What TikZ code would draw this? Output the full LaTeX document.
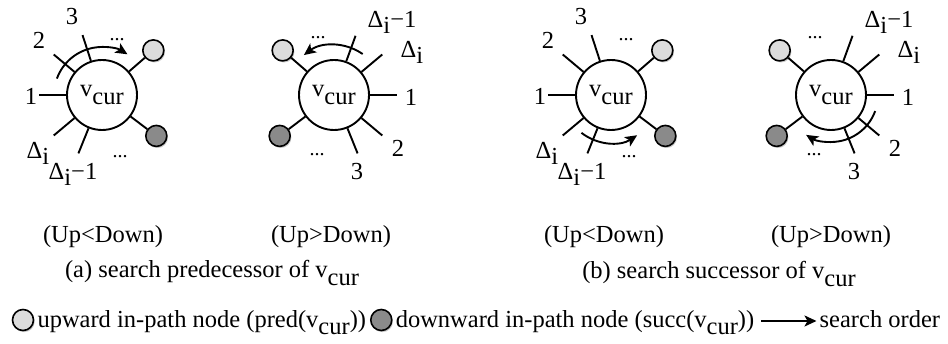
\documentclass[tikz,border=0pt]{standalone}
\usepackage{fontspec}
\setmainfont{Liberation Serif}
\usetikzlibrary{arrows.meta,calc}

\definecolor{upfill}{RGB}{220,220,220}
\definecolor{downfill}{RGB}{138,138,138}

\newcommand{\vcur}{v\raisebox{-0.3em}{cur}}
\newcommand{\Di}{Δ\raisebox{-0.25em}{i}}
\newcommand{\Dim}{Δ\raisebox{-0.25em}{i}−1}

\tikzset{
  hub/.style={circle, draw, line width=1.9pt, minimum size=70pt, inner sep=0pt, fill=white},
  spoke/.style={line width=1.9pt},
  shadowed/.style={preaction={fill=black, opacity=0.22,
      transform canvas={xshift=1.2pt, yshift=-1.6pt}}},
  upnode/.style={circle, draw, line width=1.6pt, minimum size=21pt, inner sep=0pt, fill=upfill, shadowed},
  downnode/.style={circle, draw, line width=1.6pt, minimum size=21pt, inner sep=0pt, fill=downfill, shadowed},
  order/.style={line width=1.9pt, -{Stealth[length=12pt, width=11pt, inset=3pt]}},
  lbl/.style={inner sep=0pt},
  dots/.style={inner sep=0pt, font=\fontsize{20}{20}\selectfont},
}

\begin{document}
\begin{tikzpicture}[x=1pt, y=1pt, font=\fontsize{24.5}{29}\selectfont]
\useasboundingbox (0,0) rectangle (948,344);

% ---------- (a) left: Up < Down, search runs clockwise over the top ----------
\node[hub] (h1) at (102,249) {\vcur};
\foreach \a/\n in {180/a,140/b,108/c,220/d,248/e}{
  \coordinate (h1\n) at ($(h1)+(\a:63)$);
  \draw[spoke] (h1.\a) -- (h1\n);
}
\node[upnode] (u1) at ($(h1)+(41:68)$) {};
\node[downnode] (d1) at ($(h1)+(-37:68)$) {};
\draw[spoke] (h1) -- (u1);
\draw[spoke] (h1) -- (d1);
\coordinate (s1) at ($(h1)+(160:48)$);
\draw[order] (s1) arc[start angle=160, end angle=58, radius=48];
\node[lbl] (t1c) at (72,327) {3};
\node[lbl] (t1b) at (39,304) {2};
\node[lbl] (t1a) at (31,248) {1};
\node[lbl] (t1d) at (38,191) {\Di};
\node[lbl] (t1e) at (73,170) {\Dim};
\node[dots] (p1u) at (117,304) {...};
\node[dots] (p1d) at (120,187) {...};

% ---------- (a) right: Up > Down, search runs counter-clockwise over the top ----------
\node[hub] (h2) at (334,249) {\vcur};
\foreach \a/\n in {0/a,-40/b,-68/c,40/d,70/e}{
  \coordinate (h2\n) at ($(h2)+(\a:63)$);
  \draw[spoke] (h2.\a) -- (h2\n);
}
\node[upnode] (u2) at ($(h2)+(139:68)$) {};
\node[downnode] (d2) at ($(h2)+(217:68)$) {};
\draw[spoke] (h2) -- (u2);
\draw[spoke] (h2) -- (d2);
\coordinate (s2) at ($(h2)+(55:50)$);
\draw[order] (s2) arc[start angle=55, end angle=127, radius=50];
\node[lbl] (t2e) at (392,322) {\Dim};
\node[lbl] (t2d) at (412,292) {\Di};
\node[lbl] (t2a) at (411,247) {1};
\node[lbl] (t2b) at (398,196) {2};
\node[lbl] (t2c) at (357,172) {3};
\node[dots] (p2u) at (318,306) {...};
\node[dots] (p2d) at (317,189) {...};

% ---------- (b) left: Up < Down, search runs counter-clockwise under the bottom ----------
\node[hub] (h3) at (611,249) {\vcur};
\foreach \a/\n in {180/a,140/b,108/c,220/d,248/e}{
  \coordinate (h3\n) at ($(h3)+(\a:63)$);
  \draw[spoke] (h3.\a) -- (h3\n);
}
\node[upnode] (u3) at ($(h3)+(41:68)$) {};
\node[downnode] (d3) at ($(h3)+(-37:68)$) {};
\draw[spoke] (h3) -- (u3);
\draw[spoke] (h3) -- (d3);
\coordinate (s3) at ($(h3)+(232:48)$);
\draw[order] (s3) arc[start angle=232, end angle=303, radius=48];
\node[lbl] (t3c) at (581,327) {3};
\node[lbl] (t3b) at (548,304) {2};
\node[lbl] (t3a) at (540,248) {1};
\node[lbl] (t3d) at (547,191) {\Di};
\node[lbl] (t3e) at (582,170) {\Dim};
\node[dots] (p3u) at (626,304) {...};
\node[dots] (p3d) at (629,187) {...};

% ---------- (b) right: Up > Down, search runs clockwise under the bottom ----------
\node[hub] (h4) at (831,249) {\vcur};
\foreach \a/\n in {0/a,-40/b,-68/c,40/d,70/e}{
  \coordinate (h4\n) at ($(h4)+(\a:63)$);
  \draw[spoke] (h4.\a) -- (h4\n);
}
\node[upnode] (u4) at ($(h4)+(139:68)$) {};
\node[downnode] (d4) at ($(h4)+(217:68)$) {};
\draw[spoke] (h4) -- (u4);
\draw[spoke] (h4) -- (d4);
\coordinate (s4) at ($(h4)+(-20:47)$);
\draw[order] (s4) arc[start angle=-20, end angle=-122, radius=47];
\node[lbl] (t4e) at (889,322) {\Dim};
\node[lbl] (t4d) at (909,292) {\Di};
\node[lbl] (t4a) at (908,247) {1};
\node[lbl] (t4b) at (895,196) {2};
\node[lbl] (t4c) at (854,172) {3};
\node[dots] (p4u) at (815,306) {...};
\node[dots] (p4d) at (814,189) {...};

% ---------- case labels and captions ----------
\node[lbl] (c1) at (103,107) {(Up<Down)};
\node[lbl] (c2) at (331,107) {(Up>Down)};
\node[lbl] (c3) at (604,107) {(Up<Down)};
\node[lbl] (c4) at (831,107) {(Up>Down)};
\node[lbl] (capa) at (212,71) {(a) search predecessor of \vcur};
\node[lbl] (capb) at (719,70) {(b) search successor of \vcur};

% ---------- legend ----------
\node[upnode] (lu) at (23,24) {};
\node[lbl, anchor=base west] (lut) at ($(lu.east)+(3,-7.5)$) {upward in-path node (pred(\vcur))};
\node[downnode] (ld) at ($(lut.base east)+(15,7.5)$) {};
\node[lbl, anchor=base west] (ldt) at ($(ld.east)+(3,-7.5)$) {downward in-path node (succ(\vcur))};
\coordinate (oa) at ($(ldt.base east)+(7,6.5)$);
\coordinate (ob) at ($(oa)+(55,0)$);
\draw[order] (oa) -- (ob);
\node[lbl, anchor=base west] (sot) at ($(ob)+(3,-6.5)$) {search order};
\end{tikzpicture}
\end{document}
